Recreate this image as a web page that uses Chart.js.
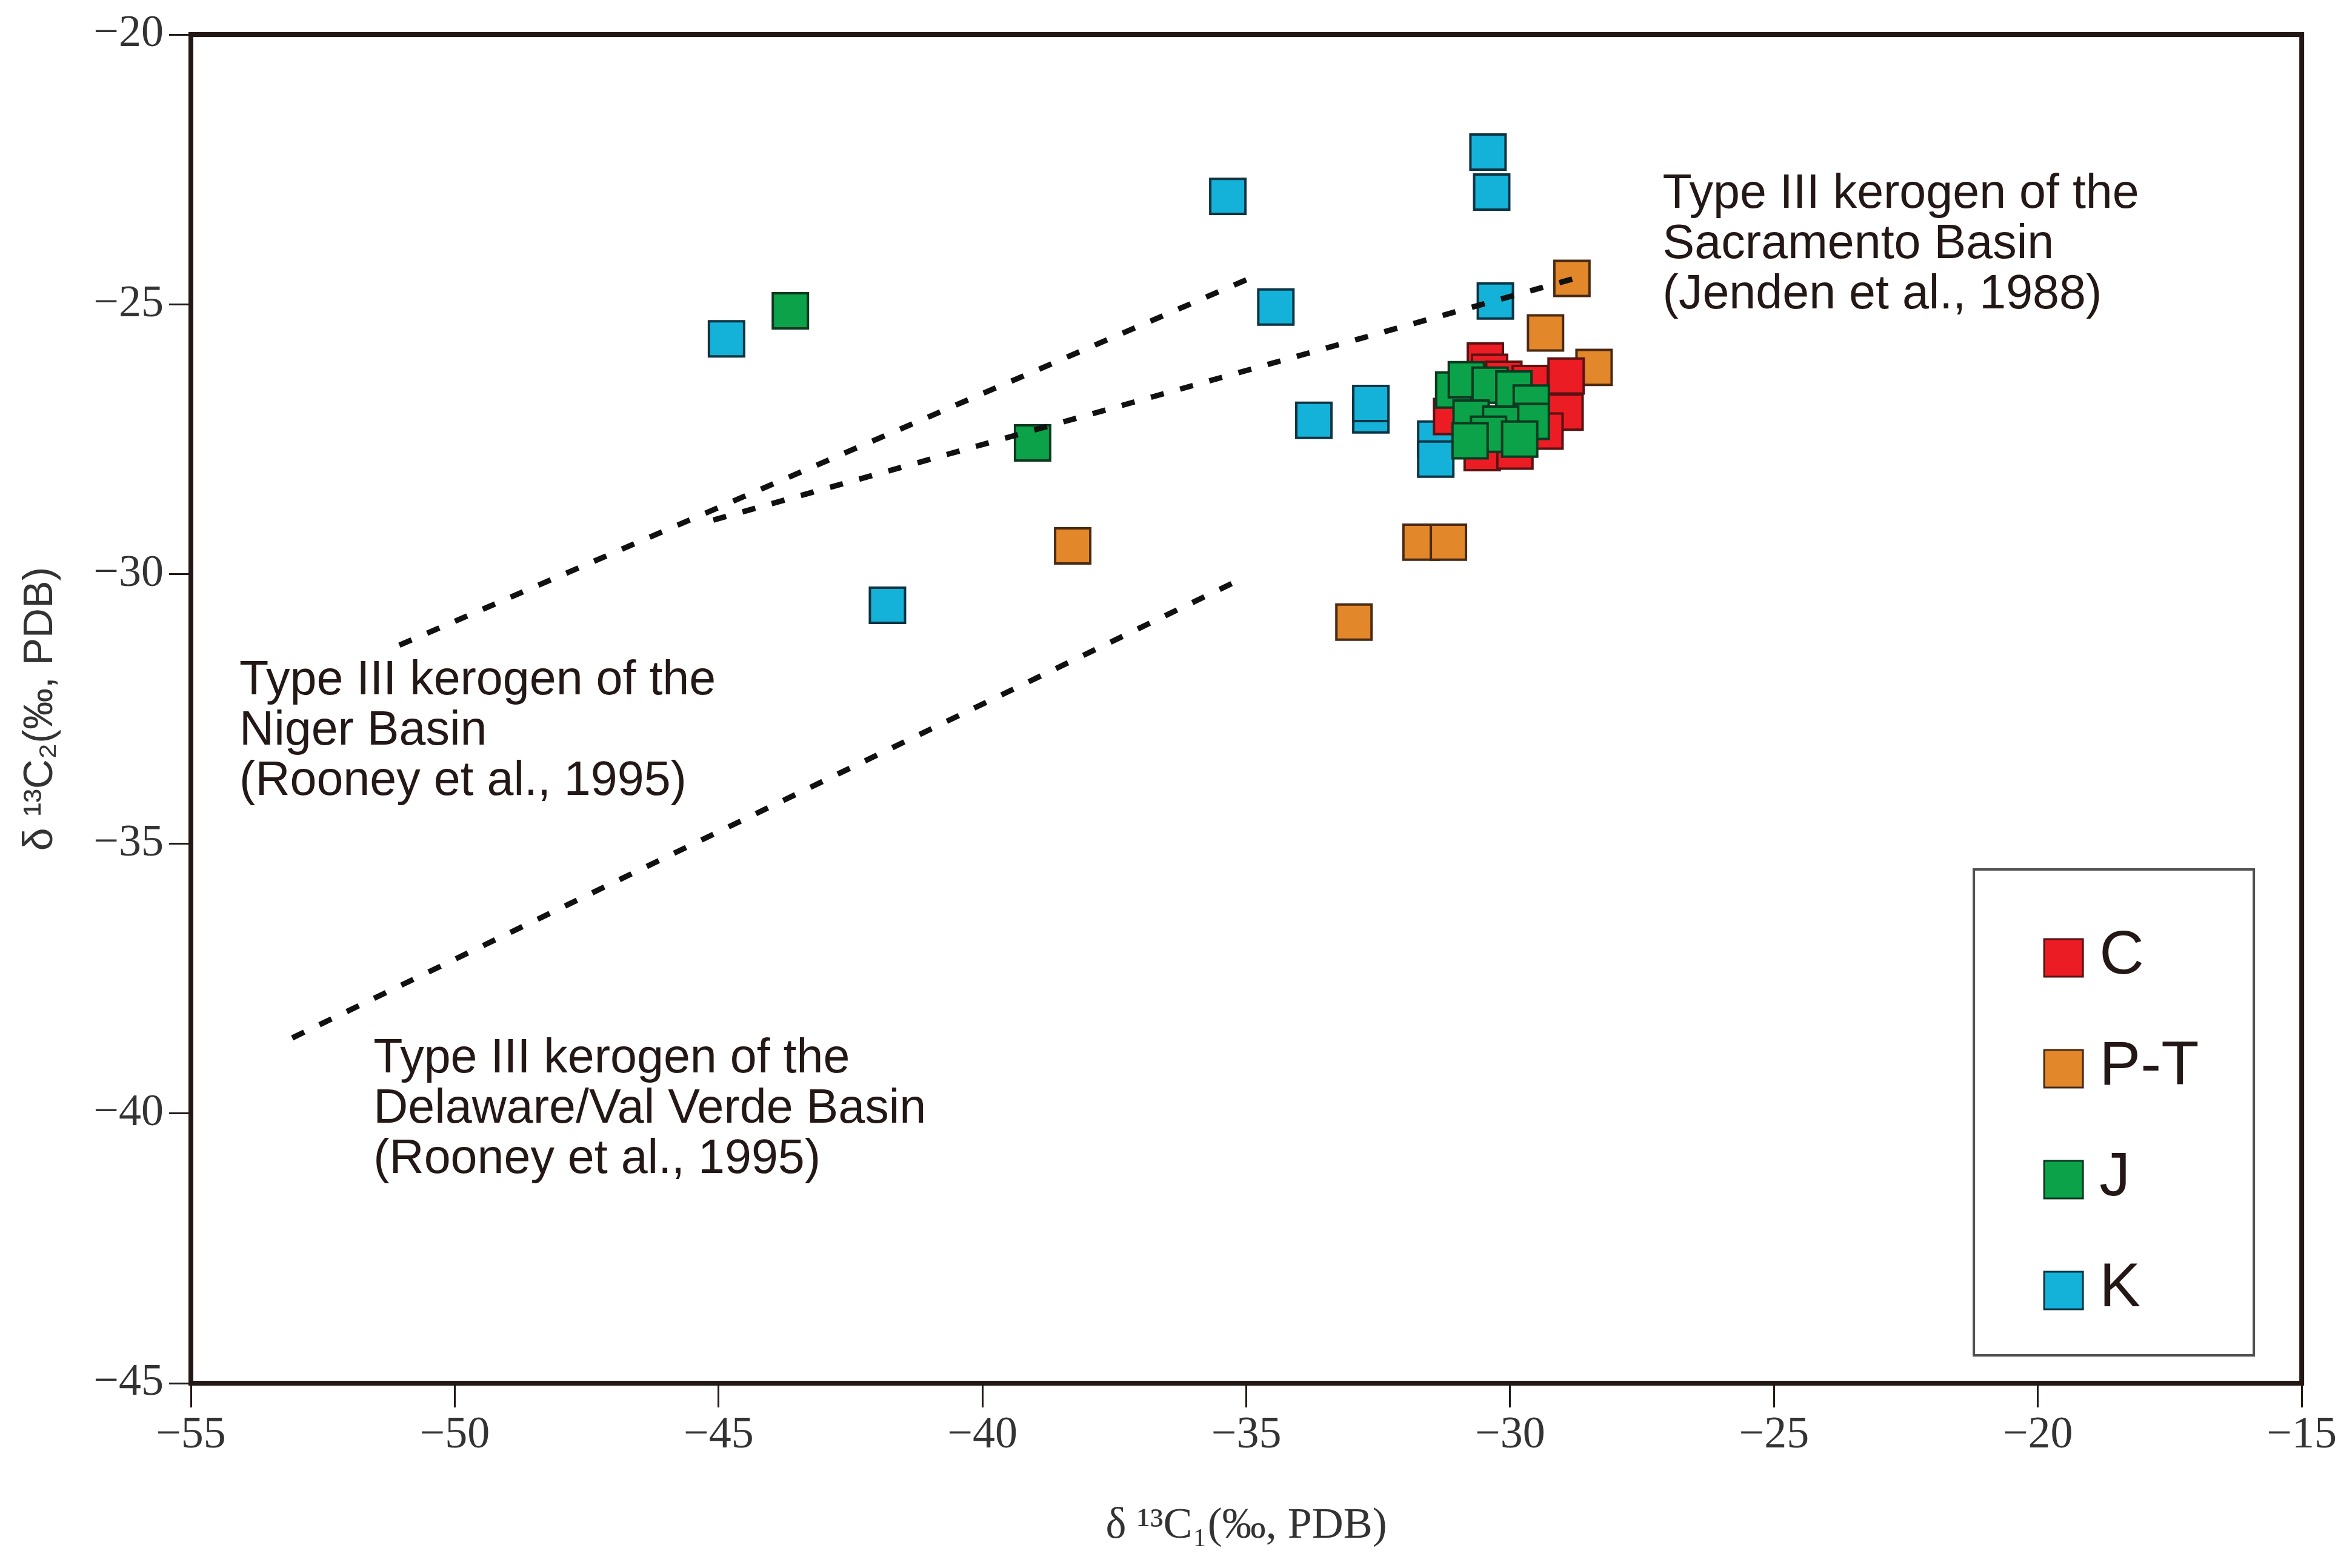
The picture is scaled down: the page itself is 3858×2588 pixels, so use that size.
<!DOCTYPE html>
<html>
<head>
<meta charset="utf-8">
<script src="https://cdn.jsdelivr.net/npm/chart.js@4/dist/chart.umd.min.js"></script>
<style>
  html, body { margin: 0; padding: 0; background: #ffffff; }
  canvas { display: block; }
</style>
</head>
<body>
<canvas id="isotope-chart" width="3858" height="2588"></canvas>
<script>
// δ13C1 - δ13C2 散点图

// 坐标轴刻度
const xTicks = [-55, -50, -45, -40, -35, -30, -25, -20, -15];
const yTicks = [-45, -40, -35, -30, -25, -20];

// 分组名称
const seriesNames = ['C', 'P-T', 'J', 'K'];

// C
const cX = [-30.47, -30.39, -30.12, -29.62, -28.94, -28.96, -29.34, -30.53, -29.91, -31.11];
const cY = [-26.05, -26.26, -26.39, -26.47, -26.33, -27.00, -27.35, -27.75, -27.72, -27.08];

// P-T
const ptX = [-38.29, -32.96, -31.69, -31.17, -29.33, -28.83, -28.41];
const ptY = [-29.48, -30.89, -29.41, -29.41, -25.53, -24.52, -26.17];

// J
const jX = [-43.64, -39.05, -31.07, -30.83, -30.38, -29.93, -29.60, -29.60, -30.74, -30.18, -30.41, -30.76, -29.82];
const jY = [-25.12, -27.57, -26.59, -26.40, -26.50, -26.57, -26.83, -27.17, -27.11, -27.22, -27.41, -27.53, -27.50];

// K
const kX = [-44.85, -35.35, -34.44, -41.80, -33.72, -32.64, -32.64, -30.42, -30.35, -30.28, -31.41, -31.41];
const kY = [-25.64, -23.00, -25.05, -30.58, -27.15, -27.05, -26.84, -22.18, -22.92, -24.94, -27.50, -27.87];

// 三类 III 型干酪根参考线
const sacramentoX = [-45.10, -28.63];
const sacramentoY = [-29.00, -24.48];
const nigerX = [-51.05, -34.89];
const nigerY = [-31.32, -24.50];
const delawareX = [-53.08, -35.05];
const delawareY = [-38.60, -30.07];

// 参考线说明文字
const sacramentoText = ['Type III kerogen of the', 'Sacramento Basin', '(Jenden et al., 1988)'];
const nigerText = ['Type III kerogen of the', 'Niger Basin', '(Rooney et al., 1995)'];
const delawareText = ['Type III kerogen of the', 'Delaware/Val Verde Basin', '(Rooney et al., 1995)'];

// 颜色
const fillColors = ['#ec1c24', '#e3872b', '#0ca24a', '#14b2d8'];
const edgeColors = ['#5a1212', '#4a2a12', '#0b3a20', '#0d3443'];
const ink = '#231815';

const SERIF = '"Liberation Serif", "Times New Roman", serif';
const SANS = '"Liberation Sans", Arial, sans-serif';

function toPoints(xs, ys) {
    return xs.map((x, i) => ({ x: x, y: ys[i] }));
}

function minusLabel(v) {
    return v < 0 ? '\u2212' + Math.abs(v) : String(v);
}

function scatterSet(idx, xs, ys, order) {
    return {
        label: seriesNames[idx],
        data: toPoints(xs, ys),
        pointStyle: 'rect',
        pointRadius: 41,
        backgroundColor: fillColors[idx],
        borderColor: edgeColors[idx],
        borderWidth: 4,
        order: order
    };
}

function dashedSet(name, xs, ys) {
    return {
        label: name,
        data: toPoints(xs, ys),
        showLine: true,
        pointRadius: 0,
        borderColor: '#111111',
        borderWidth: 9,
        borderDash: [22, 28],
        borderCapStyle: 'butt',
        fill: false,
        order: 0
    };
}

// 边框、图例和文字注释
const decorPlugin = {
    id: 'decor',
    afterDraw(chart) {
        const ctx = chart.ctx;
        const area = chart.chartArea;
        const xs = chart.scales.x;
        const ys = chart.scales.y;
        ctx.save();

        // 外框
        ctx.strokeStyle = ink;
        ctx.lineWidth = 8;
        ctx.strokeRect(area.left, area.top, area.right - area.left, area.bottom - area.top);

        // 注释
        ctx.fillStyle = ink;
        ctx.font = '79px ' + SANS;
        ctx.textAlign = 'left';
        ctx.textBaseline = 'alphabetic';
        const notes = [
            { lines: sacramentoText, x: -27.11, y: -23.21 },
            { lines: nigerText, x: -54.08, y: -32.23 },
            { lines: delawareText, x: -51.54, y: -39.24 }
        ];
        notes.forEach(n => {
            const px = xs.getPixelForValue(n.x);
            const py = ys.getPixelForValue(n.y);
            n.lines.forEach((t, i) => ctx.fillText(t, px, py + i * 83));
        });

        // 图例
        const boxW = 462, boxH = 802;
        const boxL = area.right - 79 - boxW;
        const boxT = area.bottom - 46 - boxH;
        ctx.fillStyle = '#ffffff';
        ctx.fillRect(boxL, boxT, boxW, boxH);
        ctx.strokeStyle = '#505050';
        ctx.lineWidth = 4;
        ctx.strokeRect(boxL, boxT, boxW, boxH);
        ctx.font = '102px ' + SANS;
        ctx.textBaseline = 'middle';
        seriesNames.forEach((name, i) => {
            const cy = boxT + 146 + i * 183;
            ctx.fillStyle = fillColors[i];
            ctx.fillRect(boxL + 116, cy - 31, 64, 62);
            ctx.strokeStyle = edgeColors[i];
            ctx.lineWidth = 3;
            ctx.strokeRect(boxL + 116, cy - 31, 64, 62);
            ctx.fillStyle = ink;
            ctx.fillText(name, boxL + 207, cy - 2);
        });

        ctx.restore();
    }
};

const ctx = document.getElementById('isotope-chart').getContext('2d');

new Chart(ctx, {
    type: 'scatter',
    data: {
        datasets: [
            dashedSet('Sacramento Basin', sacramentoX, sacramentoY),
            dashedSet('Niger Basin', nigerX, nigerY),
            dashedSet('Delaware/Val Verde Basin', delawareX, delawareY),
            scatterSet(2, jX, jY, 1),
            scatterSet(0, cX, cY, 2),
            scatterSet(1, ptX, ptY, 3),
            scatterSet(3, kX, kY, 4)
        ]
    },
    options: {
        responsive: false,
        devicePixelRatio: 1,
        animation: false,
        events: [],
        layout: {
            padding: { left: 0, top: 57, right: 56, bottom: 0 }
        },
        plugins: {
            legend: { display: false },
            tooltip: { enabled: false }
        },
        scales: {
            x: {
                type: 'linear',
                min: -55,
                max: -15,
                afterBuildTicks: s => { s.ticks = xTicks.map(v => ({ value: v })); },
                afterFit: s => { s.height = 305; },
                border: { display: false },
                grid: {
                    drawOnChartArea: false,
                    drawTicks: true,
                    tickLength: 40,
                    tickWidth: 3,
                    tickColor: ink
                },
                ticks: {
                    padding: 2,
                    color: '#333333',
                    font: { family: SERIF, size: 74 },
                    callback: v => minusLabel(v)
                },
                title: {
                    display: true,
                    text: 'δ ¹³C₁(‰, PDB)',
                    color: '#333333',
                    font: { family: SERIF, size: 72 },
                    padding: { top: 0, bottom: 26 }
                }
            },
            y: {
                type: 'linear',
                min: -45,
                max: -20,
                afterBuildTicks: s => { s.ticks = yTicks.map(v => ({ value: v })); },
                afterFit: s => { s.width = 315; },
                border: { display: false },
                grid: {
                    drawOnChartArea: false,
                    drawTicks: true,
                    tickLength: 36,
                    tickWidth: 3,
                    tickColor: ink
                },
                ticks: {
                    padding: 9,
                    color: '#333333',
                    font: { family: SERIF, size: 74 },
                    callback: v => minusLabel(v)
                },
                title: {
                    display: true,
                    text: 'δ ¹³C₂(‰, PDB)',
                    color: '#333333',
                    font: { family: SANS, size: 68 },
                    padding: { top: 26, bottom: 0 }
                }
            }
        }
    },
    plugins: [decorPlugin]
});
</script>
</body>
</html>
